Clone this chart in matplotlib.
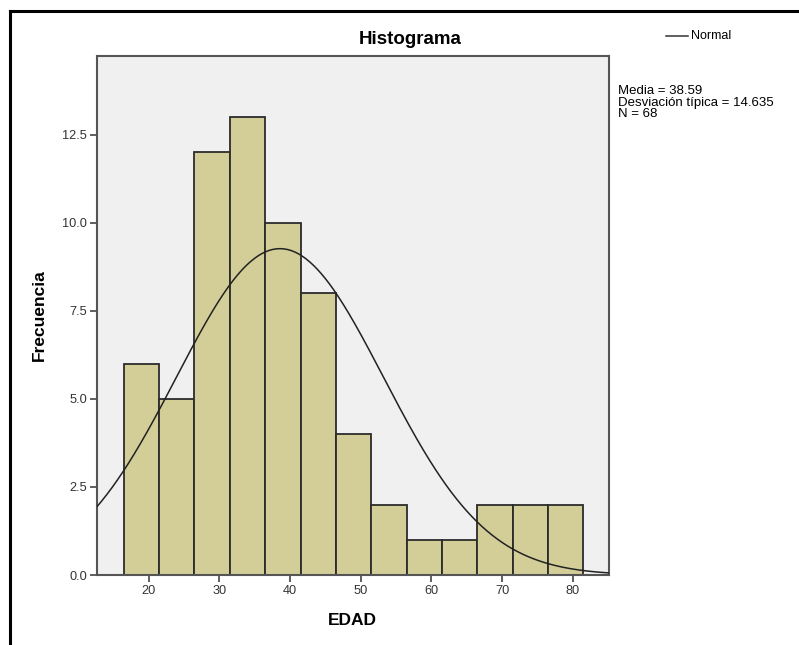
import numpy as np
import matplotlib
matplotlib.use("Agg")
import matplotlib.pyplot as plt
from matplotlib.lines import Line2D

plt.rcParams['font.family'] = ['Liberation Sans', 'DejaVu Sans']

# EDAD histogram (SPSS style)
bin_centers = [19, 24, 29, 34, 39, 44, 49, 54, 59, 64, 69, 74, 79]
counts = [6, 5, 12, 13, 10, 8, 4, 2, 1, 1, 2, 2, 2]
bin_width = 5
media = 38.59
desv = 14.635
n = 68
yticks = [0.0, 2.5, 5.0, 7.5, 10.0, 12.5]
xticks = [20, 30, 40, 50, 60, 70, 80]

fig = plt.figure(figsize=(7.99, 6.45), dpi=100)
ax = fig.add_axes([96.7 / 799, 70 / 645, 512.3 / 799, 519 / 645])
ax.set_facecolor('#f0f0f0')

ax.bar(bin_centers, counts, width=bin_width, color='#d3ce98',
       edgecolor='#2b2b2b', linewidth=1.3, zorder=2)

xx = np.linspace(12.67, 85.13, 400)
yy = n * bin_width / (desv * np.sqrt(2 * np.pi)) * np.exp(-0.5 * ((xx - media) / desv) ** 2)
ax.plot(xx, yy, color='#222222', linewidth=1.1, zorder=3)

ax.set_xlim(12.67, 85.13)
ax.set_ylim(0, 14.74)
ax.set_xticks(xticks)
ax.set_yticks(yticks)
ax.set_yticklabels([f"{v:.1f}" for v in yticks])
ax.tick_params(axis='both', length=5, width=1.2, color='#444444',
               labelsize=9.2, labelcolor='#333333', pad=2)
for s in ax.spines.values():
    s.set_color('#555555')
    s.set_linewidth(1.5)

ax.set_xlabel("EDAD", fontsize=12.5, fontweight='bold', labelpad=12)
ax.set_ylabel("Frecuencia", fontsize=12.5, fontweight='bold', labelpad=11)

fig.text(410 / 799, 1 - 40 / 645, "Histograma", fontsize=13.5, fontweight='bold',
         ha='center', va='center')

# legend entry
fig.add_artist(Line2D([666 / 799, 688 / 799], [1 - 36 / 645, 1 - 36 / 645],
                      color='#333333', linewidth=1.1))
fig.text(691 / 799, 1 - 36 / 645, "Normal", fontsize=9, ha='left', va='center')

fig.text(618 / 799, 1 - 85 / 645,
         f"Media = {media}\nDesviación típica = {desv}\nN = {n}",
         fontsize=9.5, ha='left', va='top', linespacing=0.95)

# outer frame (top and left edges visible)
fig.add_artist(Line2D([10 / 799, 1], [1 - 11 / 645, 1 - 11 / 645], color='black', linewidth=2.2))
fig.add_artist(Line2D([10 / 799, 10 / 799], [0, 1 - 11 / 645], color='black', linewidth=2.2))

fig.savefig("out.png", dpi=100)
